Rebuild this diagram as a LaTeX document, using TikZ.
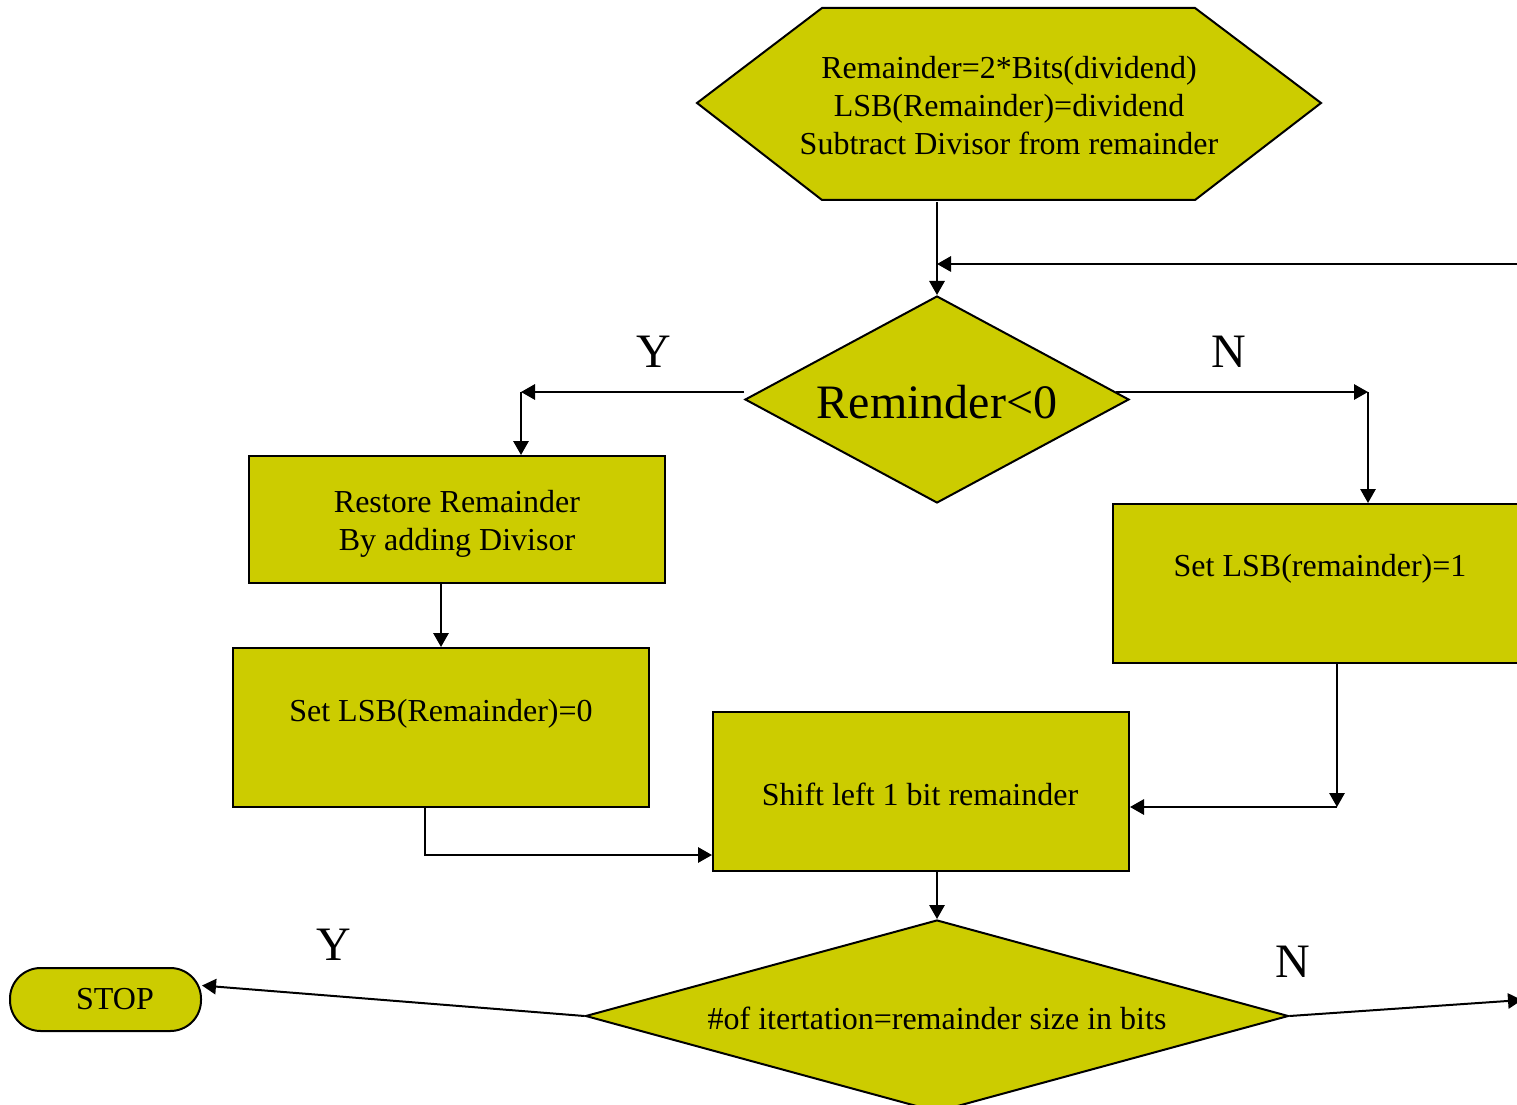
\documentclass[tikz,border=0pt]{standalone}
\usepackage{fontspec}
\setmainfont{Liberation Serif}
\usetikzlibrary{arrows.meta,shapes.geometric,calc}
\definecolor{olive}{RGB}{204,204,0}
\tikzset{
  shapefill/.style={fill=olive,draw=black,line width=1.5pt},
  boxnode/.style={shapefill,rectangle,inner sep=0pt},
  dianode/.style={shapefill,diamond,inner sep=0pt},
  txt/.style={font=\fontsize{24}{28.5}\selectfont,align=center,inner sep=0pt},
  bigtxt/.style={font=\fontsize{36}{40}\selectfont,inner sep=0pt},
  arr/.style={line width=1.5pt,-{Triangle[length=10.5pt,width=11.5pt]}},
  ln/.style={line width=1.5pt}
}
\begin{document}
\begin{tikzpicture}[x=0.75pt,y=-0.75pt]
\useasboundingbox (0,0) rectangle (1517,1105);
% hexagon
\draw[shapefill] (697,103) -- (822,8) -- (1195,8) -- (1321,103) -- (1195,200) -- (822,200) -- cycle;
\node[txt,minimum width=468pt,minimum height=144pt] (hex) at (1009,106)
  {Remainder=2*Bits(dividend)\\LSB(Remainder)=dividend\\Subtract Divisor from remainder};
% decision 1
\node[dianode,minimum width=288pt,minimum height=155.25pt] (d1) at (937,399.5) {};
\node[bigtxt] (d1t) at (937,402) {Reminder<0};
% boxes
\node[boxnode,minimum width=312pt,minimum height=95.25pt] (restore) at (457,519.5) {};
\node[txt] (restoret) at (457,524) {Restore Remainder\\By adding Divisor};
\node[boxnode,minimum width=312pt,minimum height=119.25pt] (set0) at (441,727.5) {};
\node[txt] (set0t) at (441,714) {Set LSB(Remainder)=0};
\node[boxnode,minimum width=312pt,minimum height=119.25pt] (set1) at (1321,583.5) {};
\node[txt] (set1t) at (1320,569) {Set LSB(remainder)=1};
\node[boxnode,minimum width=312pt,minimum height=119.25pt] (shift) at (921,791.5) {};
\node[txt] (shiftt) at (920,794) {Shift left 1 bit remainder};
% decision 2
\node[dianode,minimum width=527.25pt,minimum height=144pt] (d2) at (937,1016) {};
\node[txt] (d2t) at (937,1018) {\#of itertation=remainder size in bits};
% stop
\node[boxnode,rounded corners=23pt,minimum width=143.25pt,minimum height=47.25pt] (stop) at (105.5,999.5) {};
\node[txt] (stopt) at (115,999) {STOP};
% labels
\node[bigtxt] (ly1) at (654,352) {Y};
\node[bigtxt] (ln1) at (1229,352) {N};
\node[bigtxt] (ly2) at (334,945) {Y};
\node[bigtxt] (ln2) at (1293,962) {N};
% coordinates
\coordinate (fb) at (1525,264);
\coordinate (yl) at (521,392);
\coordinate (nr) at (1368,392);
\coordinate (s0turn) at (425,855);
\coordinate (s1turn) at (1337,807);
\coordinate (nout) at (1522,1000);
% connectors
\draw[arr] (hex.south -| d1.north) -- (d1.north);
\draw[arr] (fb) -- (fb -| d1.north);
\draw[arr] ($(d1.west)+(0,-7.5)$) -- (yl);
\draw[arr] (yl) -- (yl |- restore.north);
\draw[arr] ($(d1.east)+(-14,-7.5)$) -- (nr);
\draw[arr] (nr) -- (nr |- set1.north);
\draw[arr] (set0.north |- restore.south) -- (set0.north);
\draw[arr] (s0turn |- set0.south) -- (s0turn) -- (s0turn -| shift.west);
\draw[arr] (s1turn |- set1.south) -- (s1turn);
\draw[arr] (s1turn) -- (s1turn -| shift.east);
\draw[arr] (d2.north |- shift.south) -- (d2.north);
\draw[arr] (d2.west) -- ($(stop.east)+(0,-14)$);
\draw[arr] (d2.east) -- (nout);
\end{tikzpicture}
\end{document}
